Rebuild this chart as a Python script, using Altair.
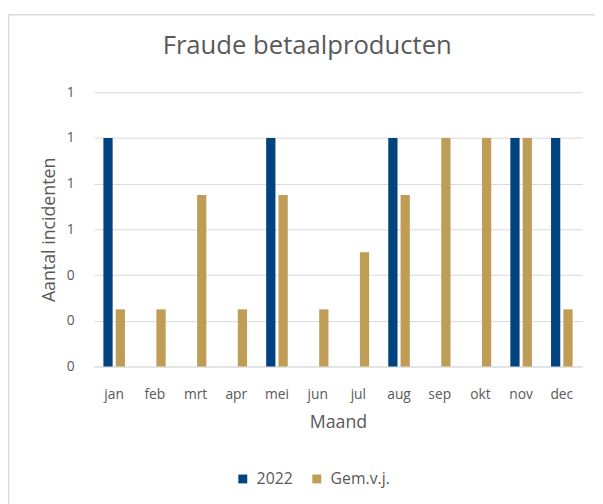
import altair as alt
import pandas as pd

months = ["jan", "feb", "mrt", "apr", "mei", "jun", "jul", "aug", "sep", "okt", "nov", "dec"]
series_names = ["2022", "Gem.v.j."]
values_2022 = [1, 0, 0, 0, 1, 0, 0, 1, 0, 0, 1, 1]
values_gem = [0.25, 0.25, 0.75, 0.25, 0.75, 0.25, 0.5, 0.75, 1, 1, 1, 0.25]
colors = ["#00437F", "#BF9D56"]

rows = []
for i, m in enumerate(months):
    rows.append({"Maand": m, "Reeks": series_names[0], "Waarde": values_2022[i]})
    rows.append({"Maand": m, "Reeks": series_names[1], "Waarde": values_gem[i]})
df = pd.DataFrame(rows)

FONT = "Open Sans"
GREY = "#595959"

bars = alt.Chart(df).mark_bar().encode(
    x=alt.X("Maand:N", sort=months,
            scale=alt.Scale(paddingInner=0.47, paddingOuter=0.235),
            axis=alt.Axis(title="Maand", labelAngle=0, ticks=False, domain=True,
                          domainColor="#D9D9D9", labelPadding=21, titlePadding=13,
                          labelFontSize=14, titleFontSize=18)),
    xOffset=alt.XOffset("Reeks:N", sort=series_names,
                        scale=alt.Scale(paddingInner=0.25, paddingOuter=0)),
    y=alt.Y("Waarde:Q", scale=alt.Scale(domain=[0, 1.2]),
            axis=alt.Axis(title="Aantal incidenten", values=[0, 0.2, 0.4, 0.6, 0.8, 1.0, 1.2],
                          format=".0f", ticks=False, domain=False, labelPadding=20,
                          titlePadding=8, labelFontSize=14, titleFontSize=18,
                          gridColor="#D9D9D9")),
    color=alt.Color("Reeks:N", sort=series_names,
                    scale=alt.Scale(domain=series_names, range=colors),
                    legend=alt.Legend(title=None, orient="none", direction="horizontal",
                                      legendX=143, legendY=384, symbolType="square",
                                      symbolSize=81, labelFontSize=16, columnPadding=16,
                                      symbolStrokeWidth=0, labelOffset=6)),
)

frame_v = alt.Chart(pd.DataFrame({"a": [0]})).mark_rule(color="#D9D9D9", strokeWidth=1.5).encode(
    x=alt.value(-86.5), y=alt.value(-78.5), y2=alt.value(600)
)
frame_h = alt.Chart(pd.DataFrame({"a": [0]})).mark_rule(color="#D9D9D9", strokeWidth=1.5).encode(
    x=alt.value(-86.5), x2=alt.value(700), y=alt.value(-78.5)
)

chart = alt.layer(frame_v, frame_h, bars).properties(
    width=495, height=278,
    autosize=alt.AutoSizeParams(type="none"),
    padding={"left": 87, "top": 82, "right": 13, "bottom": 136},
    title=alt.TitleParams("Fraude betaalproducten", anchor="start", dx=157, offset=-46,
                          fontSize=26, fontWeight="normal", color=GREY, font=FONT),
).configure_view(stroke=None).configure_axis(
    labelColor=GREY, titleColor=GREY, labelFont=FONT, titleFont=FONT,
    titleFontWeight="normal"
).configure_legend(labelColor=GREY, labelFont=FONT)

chart.save("out.html", embed_options={"renderer": "svg", "actions": False})
